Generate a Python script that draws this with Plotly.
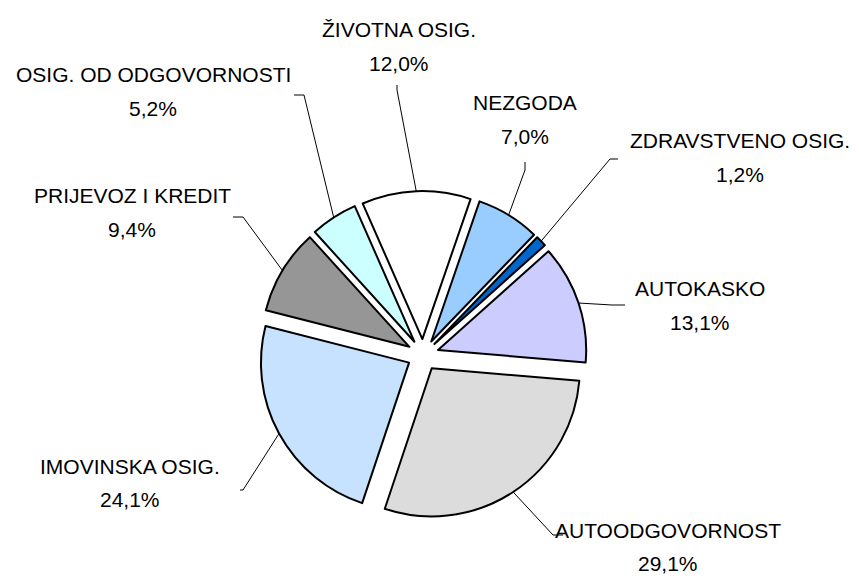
import math
import plotly.graph_objects as go

# ---- data ----
categories = ["NEZGODA", "ZDRAVSTVENO OSIG.", "AUTOKASKO", "AUTOODGOVORNOST",
              "IMOVINSKA OSIG.", "PRIJEVOZ I KREDIT", "OSIG. OD ODGOVORNOSTI",
              "ŽIVOTNA OSIG."]
shares = [7.0, 1.2, 13.1, 29.1, 24.1, 9.4, 5.2, 12.0]
value_labels = ["7,0%", "1,2%", "13,1%", "29,1%", "24,1%", "9,4%", "5,2%", "12,0%"]

# ---- style / layout ----
colors = ["#99CCFF", "#0066CC", "#CCCCFF", "#DCDCDC",
          "#C6E2FF", "#969696", "#CCFFFF", "#FFFFFF"]
W, H = 859, 580
CX, CY = 423, 355          # pie centre (px)
HALF = 164                 # half size of pie domain (px)
PULL = 0.107
ROTATION = 19

# label centres (px): x, name line y, value line y
label_pos = [(525, 103, 137), (740, 140, 174), (700, 288, 322), (668, 530, 563),
             (130, 466, 499), (132, 195, 229), (153, 75, 109), (399, 30, 63)]
# leader line elbow and end (px)
leader_elbow = [(525, 170), (610, 159), (612, 305), (553, 535),
                (243, 490), (243, 217), (304, 95), (397, 90)]
leader_end = [(525, 162), (618, 159), (625, 305), (563, 535),
              (240, 490), (233, 217), (294, 95), (397, 85)]

fig = go.Figure()
fig.add_trace(go.Pie(
    labels=categories, values=shares, sort=False, direction="clockwise",
    rotation=ROTATION, pull=[PULL] * len(shares), textinfo="none",
    marker=dict(colors=colors, line=dict(color="#000000", width=2)),
    domain=dict(x=[(CX - HALF) / W, (CX + HALF) / W],
                y=[(H - CY - HALF) / H, (H - CY + HALF) / H]),
    showlegend=False, hoverinfo="label+text", text=value_labels,
))

def px2paper(x, y):
    return x / W, 1 - y / H

total = sum(shares)
cum = 0.0
annotations = []
shapes = []
for i, (cat, v, vl) in enumerate(zip(categories, shares, value_labels)):
    mid = cum + v / 2
    cum += v
    theta = math.radians(mid / total * 360 + ROTATION)
    rr = HALF  # r*(1+pull)
    ax = CX + rr * math.sin(theta)
    ay = CY - rr * math.cos(theta)
    ex, ey = leader_elbow[i]
    tx, ty = leader_end[i]
    p0 = px2paper(ax, ay); p1 = px2paper(ex, ey); p2 = px2paper(tx, ty)
    shapes.append(dict(type="path", xref="paper", yref="paper",
                       path=f"M {p0[0]},{p0[1]} L {p1[0]},{p1[1]} L {p2[0]},{p2[1]}",
                       line=dict(color="#000000", width=1)))
    lx, ly1, ly2 = label_pos[i]
    for txt, yy in ((cat, ly1), (vl, ly2)):
        px_, py_ = px2paper(lx, yy)
        annotations.append(dict(x=px_, y=py_, xref="paper", yref="paper",
                                text=txt, showarrow=False, xanchor="center",
                                yanchor="middle",
                                font=dict(family="Liberation Sans, Arial", size=21,
                                          color="#000000")))

fig.update_layout(width=W, height=H, margin=dict(l=0, r=0, t=0, b=0),
                  paper_bgcolor="#FFFFFF", plot_bgcolor="#FFFFFF",
                  annotations=annotations, shapes=shapes)
fig.write_html("out.html", config={"displayModeBar": False},
               post_script="document.body.style.margin='0';document.body.style.overflow='hidden';")
